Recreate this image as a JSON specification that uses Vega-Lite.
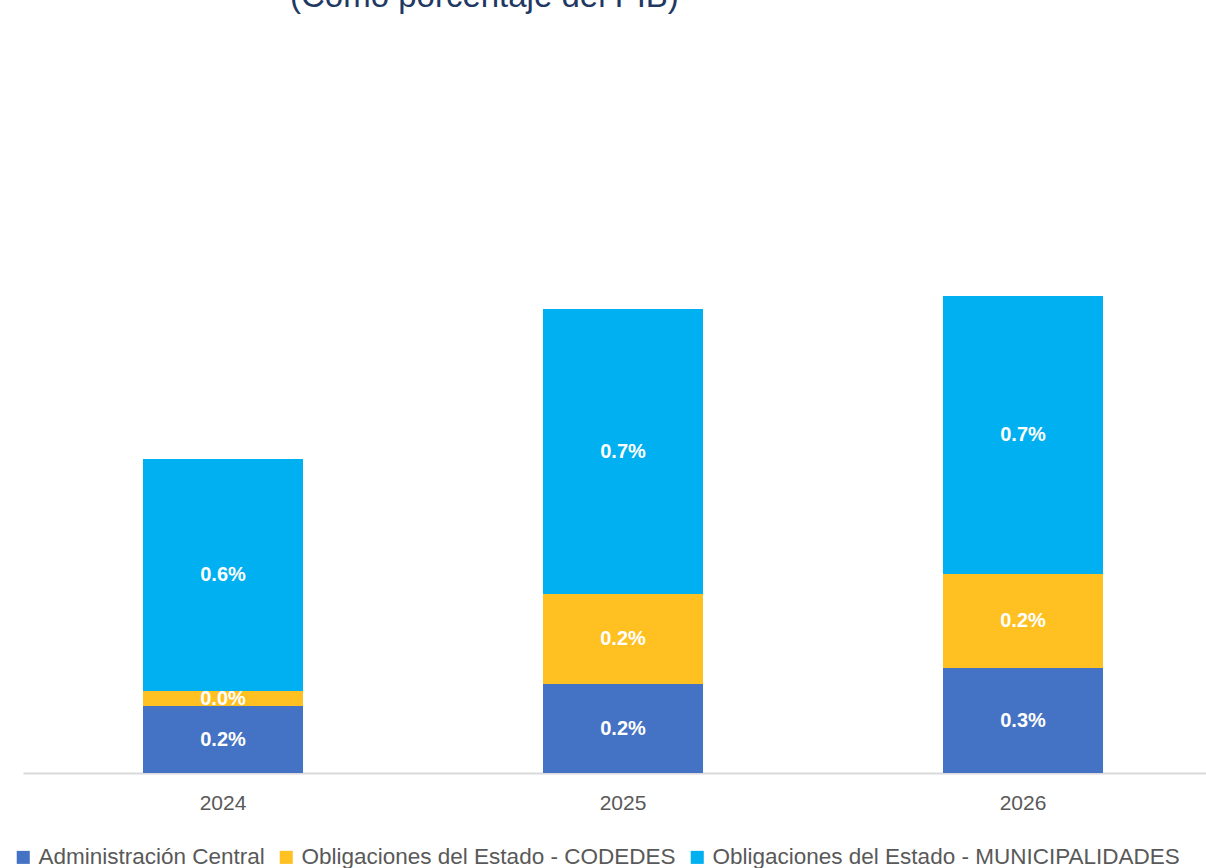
{
  "$schema": "https://vega.github.io/schema/vega-lite/v6.json",
  "autosize": "none",
  "width": 1200,
  "height": 720,
  "padding": {"left": 23, "top": 53, "right": 0, "bottom": 95},
  "background": "white",
  "view": {"stroke": null},
  "title": {
    "text": "(Como porcentaje del PIB)",
    "anchor": "start",
    "frame": "group",
    "dx": 267,
    "offset": 39,
    "font": "Liberation Sans",
    "fontSize": 33,
    "fontWeight": "normal",
    "color": "#1F3864"
  },
  "data": {
    "values": [
      {"year": "2024", "serie": "Administración Central", "ord": 1, "v": 0.001675},
      {"year": "2024", "serie": "Obligaciones del Estado - CODEDES", "ord": 2, "v": 0.000375},
      {"year": "2024", "serie": "Obligaciones del Estado - MUNICIPALIDADES", "ord": 3, "v": 0.0058},
      {"year": "2025", "serie": "Administración Central", "ord": 1, "v": 0.002225},
      {"year": "2025", "serie": "Obligaciones del Estado - CODEDES", "ord": 2, "v": 0.00225},
      {"year": "2025", "serie": "Obligaciones del Estado - MUNICIPALIDADES", "ord": 3, "v": 0.007125},
      {"year": "2026", "serie": "Administración Central", "ord": 1, "v": 0.002625},
      {"year": "2026", "serie": "Obligaciones del Estado - CODEDES", "ord": 2, "v": 0.00235},
      {"year": "2026", "serie": "Obligaciones del Estado - MUNICIPALIDADES", "ord": 3, "v": 0.00695}
    ]
  },
  "transform": [
    {"stack": "v", "groupby": ["year"], "sort": [{"field": "ord", "order": "ascending"}], "as": ["v0", "v1"]},
    {"calculate": "(datum.v0 + datum.v1) / 2", "as": "mid"}
  ],
  "encoding": {
    "x": {
      "field": "year",
      "type": "nominal",
      "title": null,
      "scale": {"paddingInner": 0.6, "paddingOuter": 0.3},
      "axis": {
        "labelAngle": 0,
        "labelFont": "Liberation Sans",
        "labelFontSize": 21,
        "labelColor": "#595959",
        "labelPadding": 19,
        "ticks": false,
        "domainColor": "#D9D9D9",
        "domainWidth": 2
      }
    }
  },
  "layer": [
    {
      "mark": {"type": "bar"},
      "encoding": {
        "y": {"field": "v0", "type": "quantitative", "scale": {"domain": [0, 0.018]}, "axis": null},
        "y2": {"field": "v1"},
        "color": {
          "field": "serie",
          "type": "nominal",
          "scale": {
            "domain": ["Administración Central", "Obligaciones del Estado - CODEDES", "Obligaciones del Estado - MUNICIPALIDADES"],
            "range": ["#4472C4", "#FFC022", "#00B0F0"]
          },
          "legend": {
            "title": null,
            "orient": "none",
            "direction": "horizontal",
            "legendX": -11,
            "legendY": 793,
            "symbolType": "square",
            "symbolSize": 170,
            "symbolStrokeWidth": 0,
            "labelFont": "Liberation Sans",
            "labelFontSize": 22.5,
            "labelColor": "#595959",
            "labelOffset": 4,
            "columnPadding": 10,
            "labelLimit": 600
          }
        }
      }
    },
    {
      "mark": {"type": "text", "color": "white", "font": "Liberation Sans", "fontWeight": "bold", "fontSize": 20, "baseline": "middle"},
      "encoding": {
        "y": {"field": "mid", "type": "quantitative", "scale": {"domain": [0, 0.018]}},
        "text": {"field": "v", "type": "quantitative", "format": ".1%"}
      }
    }
  ]
}
